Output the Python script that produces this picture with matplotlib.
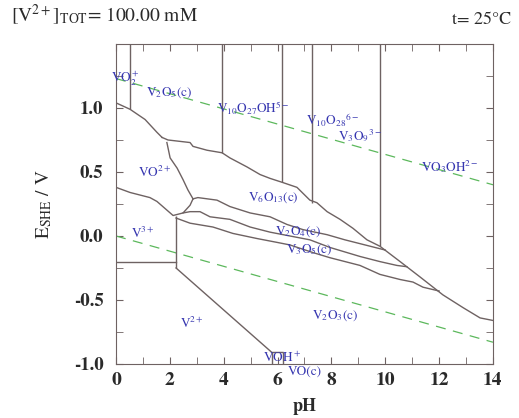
import matplotlib
matplotlib.use("Agg")
import matplotlib.pyplot as plt
from matplotlib.ticker import MultipleLocator

plt.rcParams['font.family'] = 'STIXGeneral'
plt.rcParams['mathtext.fontset'] = 'stix'

# boundary lines (pH, E/V)
l1_ph = [0.0, 0.52, 1.08, 1.52, 1.71]
l1_e = [1.04, 0.99, 0.91, 0.81, 0.77]

l2_ph = [1.71, 1.93, 2.75, 2.86, 3.38, 3.94, 4.23, 4.86, 5.35, 5.72, 6.16, 6.72, 7.20, 7.46,
         7.84, 8.32, 8.80, 9.32, 9.80, 10.55, 11.29, 12.14, 12.89, 13.52, 14.0]
l2_e = [0.77, 0.75, 0.73, 0.70, 0.67, 0.65, 0.61, 0.54, 0.48, 0.45, 0.42, 0.38, 0.28, 0.26,
        0.19, 0.13, 0.06, -0.03, -0.08, -0.20, -0.32, -0.46, -0.56, -0.64, -0.66]

l3_ph = [1.89, 2.01, 2.27, 2.49, 2.67, 2.86]
l3_e = [0.73, 0.61, 0.53, 0.44, 0.36, 0.29]

l4_ph = [0.0, 0.52, 1.26, 1.52, 2.12, 2.49, 2.75, 2.86]
l4_e = [0.38, 0.34, 0.30, 0.27, 0.16, 0.18, 0.24, 0.29]

l5_ph = [2.86, 3.04, 3.75, 4.23, 4.98, 5.72, 6.35, 6.94, 7.84, 8.50, 9.25, 10.0]
l5_e = [0.29, 0.30, 0.28, 0.23, 0.18, 0.15, 0.09, 0.05, 0.01, -0.03, -0.07, -0.11]

l6_ph = [2.49, 2.75, 3.12, 3.49, 4.23, 4.98, 5.72, 6.46, 7.20, 7.95, 9.06, 9.80, 10.43, 10.8]
l6_e = [0.18, 0.19, 0.19, 0.15, 0.13, 0.07, 0.03, 0.0, -0.03, -0.09, -0.16, -0.20, -0.23, -0.24]

l7_ph = [2.23, 2.49, 2.75, 3.60, 4.34, 5.24, 5.98, 6.46, 7.32, 7.95, 9.06, 9.80, 10.55, 11.03,
         11.40, 12.0]
l7_e = [0.14, 0.12, 0.10, 0.07, 0.02, -0.02, -0.05, -0.07, -0.13, -0.17, -0.23, -0.30, -0.34,
        -0.36, -0.40, -0.43]

# vertical boundaries: pH, E bottom, E top
vert_ph = [0.52, 3.94, 6.16, 7.28, 9.80, 2.23, 5.79, 6.20]
vert_lo = [0.99, 0.65, 0.42, 0.26, -0.08, -0.25, -1.0, -1.0]
vert_hi = [1.5, 1.5, 1.5, 1.5, 1.5, 0.16, -0.91, -0.91]

v3_v2_ph = [0.0, 2.23]
v3_v2_e = [-0.20, -0.20]
v2_ph = [2.23, 5.79, 6.20]
v2_e = [-0.25, -0.91, -0.91]

# water stability lines
o2_ph = [0, 14]
o2_e = [1.23, 0.40]
h2_ph = [0, 14]
h2_e = [0.0, -0.83]

species = [r'VO$_2^+$', r'V$_2$O$_5$(c)', r'V$_{10}$O$_{27}$OH$^{5-}$', r'V$_{10}$O$_{28}$$^{6-}$',
           r'V$_3$O$_9$$^{3-}$', r'VO$_3$OH$^{2-}$', r'VO$^{2+}$', r'V$_6$O$_{13}$(c)',
           r'V$_2$O$_4$(c)', r'V$_3$O$_5$(c)', r'V$^{3+}$', r'V$^{2+}$', r'V$_2$O$_3$(c)',
           r'VOH$^+$', 'VO(c)']
sp_ph = [0.33, 1.97, 5.09, 8.05, 9.05, 12.4, 1.45, 5.83, 6.76, 7.17, 1.0, 2.82, 8.13, 6.16, 7.02]
sp_e = [1.23, 1.12, 1.0, 0.905, 0.78, 0.54, 0.50, 0.30, 0.03, -0.11, 0.02, -0.68, -0.62, -0.95, -1.06]

lc = '#6e6262'
blue = '#3636b0'
green = '#5cb85c'
dark = '#2a2a2a'

fig = plt.figure(figsize=(5.19, 4.18), dpi=100)
ax = fig.add_axes([0.2235, 0.1292, 0.7264, 0.7656])

ax.plot(o2_ph, o2_e, color=green, lw=0.9, dashes=(8, 6))
ax.plot(h2_ph, h2_e, color=green, lw=0.9, dashes=(8, 6))

for xs, ys in [(l1_ph, l1_e), (l2_ph, l2_e), (l3_ph, l3_e), (l4_ph, l4_e), (l5_ph, l5_e),
               (l6_ph, l6_e), (l7_ph, l7_e), (v3_v2_ph, v3_v2_e), (v2_ph, v2_e)]:
    ax.plot(xs, ys, color=lc, lw=1.0)
ax.vlines(vert_ph, vert_lo, vert_hi, color=lc, lw=1.0)

for s, x, y in zip(species, sp_ph, sp_e):
    ax.text(x, y, s, color=blue, fontsize=9.5, ha='center', va='center', clip_on=False)

ax.set_xlim(0, 14)
ax.set_ylim(-1.0, 1.5)
ax.set_xticks([0, 2, 4, 6, 8, 10, 12, 14])
ax.set_yticks([-1.0, -0.5, 0.0, 0.5, 1.0])
ax.set_yticklabels(['-1.0', '-0.5', '0.0', '0.5', '1.0'])
ax.xaxis.set_minor_locator(MultipleLocator(1))
ax.yaxis.set_minor_locator(MultipleLocator(0.25))
ax.tick_params(which='both', direction='in', top=True, right=True, color=lc, length=5)
ax.tick_params(axis='x', labelsize=14, pad=6)
ax.tick_params(axis='y', labelsize=13.5, pad=9)
for sp in ax.spines.values():
    sp.set_color(lc)
for lab in ax.get_xticklabels() + ax.get_yticklabels():
    lab.set_fontweight('bold')
    lab.set_color(dark)

ax.set_xlabel('pH', fontsize=13, fontweight='bold', color=dark, labelpad=6)
ax.set_ylabel(r'E$_{\rm SHE}$ / V', fontsize=14, color=dark, labelpad=14)

fig.text(0.022, 0.948, r'[V$^{2+}$]$_{\rm TOT}$= 100.00 mM', fontsize=14, color=dark)
fig.text(0.985, 0.943, 't= 25°C', fontsize=13, color=dark, ha='right')

fig.savefig('out.png', dpi=100)
